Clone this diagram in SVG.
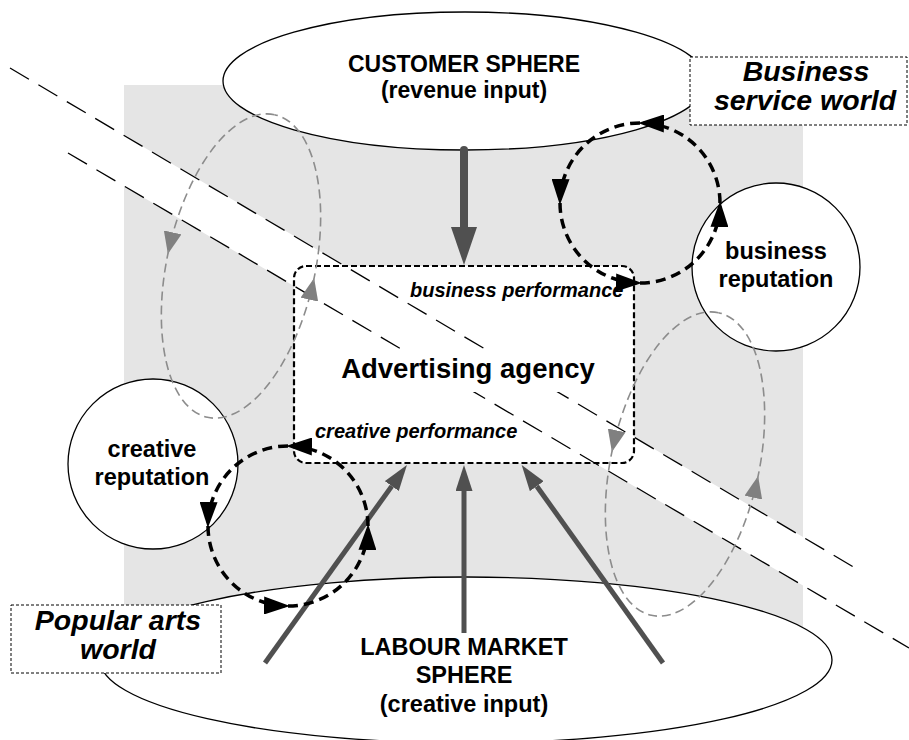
<svg xmlns="http://www.w3.org/2000/svg" width="909" height="740" viewBox="0 0 909 740">
<defs>
<style>
.t{font-family:"Liberation Sans",Arial,Helvetica,sans-serif;font-weight:bold;fill:#000;text-anchor:middle}
.st{text-anchor:start}
.it{font-style:italic}
.sph{fill:#fff;stroke:#000;stroke-width:1.3}
.diag{stroke:#000;stroke-width:1.3;stroke-dasharray:22 11;fill:none}
.thick{stroke:#505050;fill:none}
.bloop{fill:none;stroke:#000;stroke-width:3.5;stroke-dasharray:10 6}
.gloop{fill:none;stroke:#8c8c8c;stroke-width:1.6;stroke-dasharray:9 5}
.lbl{fill:#fff;stroke:#000;stroke-width:1;stroke-dasharray:3 2}
</style>
<marker id="hdBig" markerUnits="userSpaceOnUse" markerWidth="38" markerHeight="26" viewBox="0 0 38 26" refX="0" refY="13" orient="auto"><path d="M0,0 L38,13 L0,26 z" fill="#505050"/></marker>
<marker id="hdSm" markerUnits="userSpaceOnUse" markerWidth="26" markerHeight="17" viewBox="0 0 26 17" refX="0" refY="8.5" orient="auto"><path d="M0,0 L26,8.5 L0,17 z" fill="#505050"/></marker>
<marker id="blk" markerUnits="userSpaceOnUse" markerWidth="26" markerHeight="18" viewBox="0 0 26 18" refX="22" refY="9" orient="auto"><path d="M0,0 L26,9 L0,18 z" fill="#000"/></marker>
<marker id="gry" markerUnits="userSpaceOnUse" markerWidth="22" markerHeight="18" viewBox="0 0 22 18" refX="18" refY="9" orient="auto"><path d="M0,0 L22,9 L0,18 z" fill="#808080"/></marker>
</defs>

<g id="background">
<rect x="124" y="85" width="679" height="565" fill="#e5e5e5"/>
<polygon points="124,135.4 803,537 803,585.6 124,186" fill="#fff"/>
</g>

<g id="customer-sphere">
<ellipse class="sph" cx="465" cy="81" rx="242" ry="69"/>
<text class="t" x="464" y="72" font-size="23">CUSTOMER SPHERE</text>
<text class="t" x="464" y="98" font-size="23">(revenue input)</text>
</g>

<g id="labour-sphere">
<ellipse class="sph" cx="466" cy="660" rx="366" ry="83"/>
<text class="t" x="464" y="655" font-size="23.5">LABOUR MARKET</text>
<text class="t" x="464" y="683" font-size="23.5">SPHERE</text>
<text class="t" x="464" y="712" font-size="23.5">(creative input)</text>
</g>

<g id="agency-box">
<rect x="294" y="266" width="340" height="197" rx="12" fill="#fff" stroke="#000" stroke-width="2.2" stroke-dasharray="6 3"/>
</g>

<g id="world-boundaries">
<line class="diag" x1="10" y1="68" x2="862" y2="572"/>
<line class="diag" x1="68" y1="153" x2="909" y2="648"/>
</g>

<g id="agency">
<rect x="336" y="350" width="266" height="42" fill="#fff"/>
<text class="t" x="468" y="378" font-size="27.5">Advertising agency</text>
<text class="t it st" x="410" y="297" font-size="20">business performance</text>
<text class="t it st" x="315" y="438" font-size="20">creative performance</text>
</g>

<g id="business-reputation">
<circle class="sph" cx="776" cy="267" r="84"/>
<text class="t" x="776" y="259" font-size="23.5">business</text>
<text class="t" x="776" y="287" font-size="23.5">reputation</text>
</g>

<g id="creative-reputation">
<circle class="sph" cx="153" cy="464" r="85"/>
<text class="t" x="152" y="457" font-size="23.5">creative</text>
<text class="t" x="152" y="485" font-size="23.5">reputation</text>
</g>

<g id="business-service-world">
<rect class="lbl" x="690" y="57" width="217" height="68"/>
<text class="t it" x="806" y="81" font-size="28.5">Business</text>
<text class="t it" x="805" y="110" font-size="28.5">service world</text>
</g>

<g id="popular-arts-world">
<rect class="lbl" x="11" y="605" width="210" height="68"/>
<text class="t it" x="118" y="630" font-size="28.5">Popular arts</text>
<text class="t it" x="118" y="659" font-size="28.5">world</text>
</g>

<g id="connectors">
<line class="thick" x1="464" y1="150" x2="464" y2="227" stroke-width="8" stroke-linecap="round" marker-end="url(#hdBig)"/>
<line class="thick" x1="464" y1="633" x2="464" y2="491" stroke-width="5" marker-end="url(#hdSm)"/>
<line class="thick" x1="265" y1="663" x2="391.8" y2="486.1" stroke-width="5" marker-end="url(#hdSm)"/>
<line class="thick" x1="663" y1="663" x2="536.8" y2="486.2" stroke-width="5" marker-end="url(#hdSm)"/>

<path class="bloop" d="M720,203 A80,80 0 0 0 642,123" marker-end="url(#blk)"/>
<path class="bloop" d="M640,123 A80,80 0 0 0 560,201" marker-end="url(#blk)"/>
<path class="bloop" d="M560,203 A80,80 0 0 0 638,283" marker-end="url(#blk)"/>
<path class="bloop" d="M640,283 A80,80 0 0 0 720,205" marker-end="url(#blk)"/>

<path class="bloop" d="M368,526 A80,80 0 0 0 290,446" marker-end="url(#blk)"/>
<path class="bloop" d="M288,446 A80,80 0 0 0 208,524" marker-end="url(#blk)"/>
<path class="bloop" d="M208,526 A80,80 0 0 0 286,606" marker-end="url(#blk)"/>
<path class="bloop" d="M288,606 A80,80 0 0 0 368,528" marker-end="url(#blk)"/>

<g transform="translate(241,266) rotate(12.5)">
<path class="gloop" d="M0,-155 A74,155 0 0 0 -74,0" marker-end="url(#gry)"/>
<path class="gloop" d="M-74,0 A74,155 0 0 0 0,155 A74,155 0 0 0 74,0" marker-end="url(#gry)"/>
<path class="gloop" d="M74,0 A74,155 0 0 0 0,-155"/>
</g>
<g transform="translate(685,464) rotate(12.5)">
<path class="gloop" d="M0,-155 A74,155 0 0 0 -74,0" marker-end="url(#gry)"/>
<path class="gloop" d="M-74,0 A74,155 0 0 0 0,155 A74,155 0 0 0 74,0" marker-end="url(#gry)"/>
<path class="gloop" d="M74,0 A74,155 0 0 0 0,-155"/>
</g>
</g>
</svg>
